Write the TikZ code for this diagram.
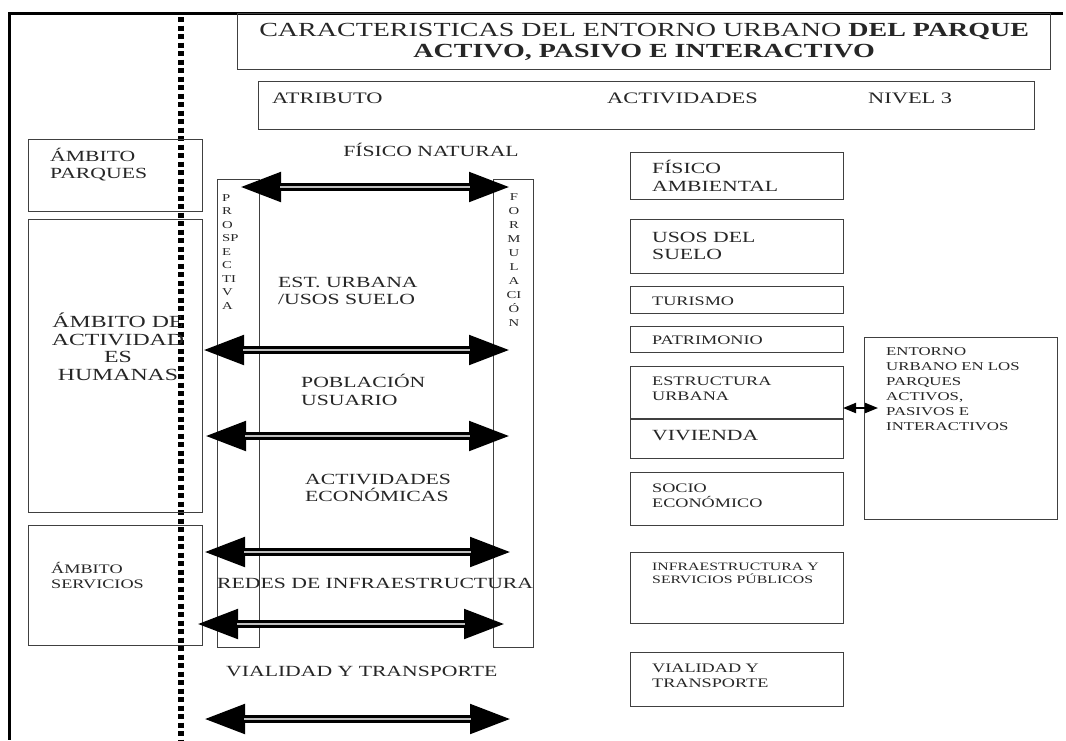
\documentclass[tikz,border=0pt]{standalone}
\usepackage{fontspec}
\setmainfont{Liberation Serif}[FakeStretch=1.4]
\usetikzlibrary{arrows.meta, positioning}

\begin{document}
\begin{tikzpicture} [x=1pt, y=-1pt, > = {Triangle[length=41pt, width=28pt]},
	caja/.style={draw=black!75, line width=1.4pt, rectangle, inner sep=0pt, anchor=north west},
	letra/.style={text=black!85, inner sep=0pt, align=left, anchor=base west},
	grande/.style={letra, font=\fontsize{15.5}{17}\selectfont},
	chica/.style={letra, font=\fontsize{13}{15}\selectfont},
	flecha/.style={<->, line width=8pt, black},
	hueco/.style={line width=2.5pt, black!25, shorten <=40pt, shorten >=40pt}]
	\useasboundingbox (0,0) rectangle (1066,740);
	
	\draw [line width=3pt] (8,13) -- (1063,13);
	\draw [line width=3pt] (9,13) -- (9,740);
	\draw [line width=6pt, dash pattern=on 5pt off 3.5pt] (181,17) -- (181,740);
	
	\node [caja, minimum width=813pt, minimum height=56pt, align=center, text=black!85,
	font=\fontsize{20}{21.5}\selectfont] (titulo) at (237,13)
	{CARACTERISTICAS DEL ENTORNO URBANO \textbf{DEL PARQUE}\\\textbf{ACTIVO, PASIVO E INTERACTIVO}};
	
	\node [caja, minimum width=776pt, minimum height=48pt] (cabecera) at (258,81) {};
	\node [letra, font=\fontsize{16}{18}\selectfont] (atrib) at (272,103) {ATRIBUTO};
	\node [letra, font=\fontsize{16}{18}\selectfont] (activ) at (607,103) {ACTIVIDADES};
	\node [letra, font=\fontsize{16}{18}\selectfont] (nivel) at (868,103) {NIVEL 3};
	
	\node [caja, minimum width=174pt, minimum height=72pt] (parques) at (28,139) {};
	\node [letra, font=\fontsize{15.5}{16.5}\selectfont] (tparques) at (50,178) {ÁMBITO\\PARQUES};
	\node [caja, minimum width=174pt, minimum height=293pt] (humanas) at (28,219) {};
	\node [letra, align=center, anchor=base, font=\fontsize{17}{17.5}\selectfont] (thumanas) at (118,380)
	{ÁMBITO DE\\ACTIVIDAD\\ES\\HUMANAS};
	\node [caja, minimum width=174pt, minimum height=120pt] (servicios) at (28,525) {};
	\node [chica] (tservicios) at (51,588) {ÁMBITO\\SERVICIOS};
	
	\node [caja, minimum width=42pt, minimum height=468pt] (prosp) at (217,179) {};
	\node [letra, font=\fontsize{10.5}{13.5}\selectfont] (tprosp) at (222,309) {P\\R\\O\\SP\\E\\C\\TI\\V\\A};
	\node [caja, minimum width=40pt, minimum height=468pt] (formu) at (493,179) {};
	\node [letra, align=center, anchor=base, font=\fontsize{10.5}{14}\selectfont] (tformu) at (514,326)
	{F\\O\\R\\M\\U\\L\\A\\CI\\Ó\\N};
	
	\node [grande, anchor=base] (fisnat) at (431,156) {FÍSICO NATURAL};
	\node [grande] (esturb) at (278,304) {EST. URBANA\\/USOS SUELO};
	\node [grande, font=\fontsize{15.5}{18}\selectfont] (pobla) at (301,405) {POBLACIÓN\\USUARIO};
	\node [grande] (acteco) at (305,501) {ACTIVIDADES\\ECONÓMICAS};
	\node [grande] (redes) at (217,588) {REDES DE INFRAESTRUCTURA};
	\node [grande] (vialt) at (226,676) {VIALIDAD Y TRANSPORTE};
	
	\coordinate (i1) at (240,187); \coordinate (d1) at (510,187);
	\coordinate (i2) at (203,350); \coordinate (d2) at (510,350);
	\coordinate (i3) at (205,436); \coordinate (d3) at (510,436);
	\coordinate (i4) at (204,552); \coordinate (d4) at (511,552);
	\coordinate (i5) at (197,624); \coordinate (d5) at (505,624);
	\coordinate (i6) at (204,719); \coordinate (d6) at (511,719);
	\draw [flecha] (i1) -- (d1); \draw [hueco] (i1) -- (d1);
	\draw [flecha] (i2) -- (d2); \draw [hueco] (i2) -- (d2);
	\draw [flecha] (i3) -- (d3); \draw [hueco] (i3) -- (d3);
	\draw [flecha] (i4) -- (d4); \draw [hueco] (i4) -- (d4);
	\draw [flecha] (i5) -- (d5); \draw [hueco] (i5) -- (d5);
	\draw [flecha] (i6) -- (d6); \draw [hueco] (i6) -- (d6);
	
	\node [caja, minimum width=213pt, minimum height=47pt] (fisamb) at (630,152) {};
	\node [grande, font=\fontsize{15.5}{18}\selectfont] at (652,191) {FÍSICO\\AMBIENTAL};
	\node [caja, minimum width=213pt, minimum height=54pt] (usos) at (630,219) {};
	\node [grande] at (652,259) {USOS DEL\\SUELO};
	\node [caja, minimum width=213pt, minimum height=27pt] (turismo) at (630,286) {};
	\node [chica] at (652,305) {TURISMO};
	\node [caja, minimum width=213pt, minimum height=26pt] (patrim) at (630,326) {};
	\node [chica] at (652,344) {PATRIMONIO};
	\node [caja, minimum width=213pt, minimum height=92pt] (estruc) at (630,366) {};
	\draw [draw=black!75, line width=1.4pt] (630,419) -- (843,419);
	\node [chica] at (652,400) {ESTRUCTURA\\URBANA};
	\node [grande] at (652,440) {VIVIENDA};
	\node [caja, minimum width=213pt, minimum height=53pt] (socio) at (630,472) {};
	\node [chica] at (652,507) {SOCIO\\ECONÓMICO};
	\node [caja, minimum width=213pt, minimum height=71pt] (infra) at (630,552) {};
	\node [letra, font=\fontsize{11.3}{13}\selectfont] at (652,583) {INFRAESTRUCTURA Y\\SERVICIOS PÚBLICOS};
	\node [caja, minimum width=213pt, minimum height=54pt] (vialid) at (630,652) {};
	\node [chica] at (652,687) {VIALIDAD Y\\TRANSPORTE};
	
	\node [caja, minimum width=193pt, minimum height=182pt] (entorno) at (864,337) {};
	\node [letra, font=\fontsize{12}{15}\selectfont] at (886,430)
	{ENTORNO\\URBANO EN LOS\\PARQUES\\ACTIVOS,\\PASIVOS E\\INTERACTIVOS};
	
	\coordinate (pe) at (843,408); \coordinate (pn) at (878,408);
	\draw [{Triangle[length=13pt, width=10pt]}-{Triangle[length=13pt, width=10pt]}, line width=2pt] (pe) -- (pn);
\end{tikzpicture}
\end{document}
